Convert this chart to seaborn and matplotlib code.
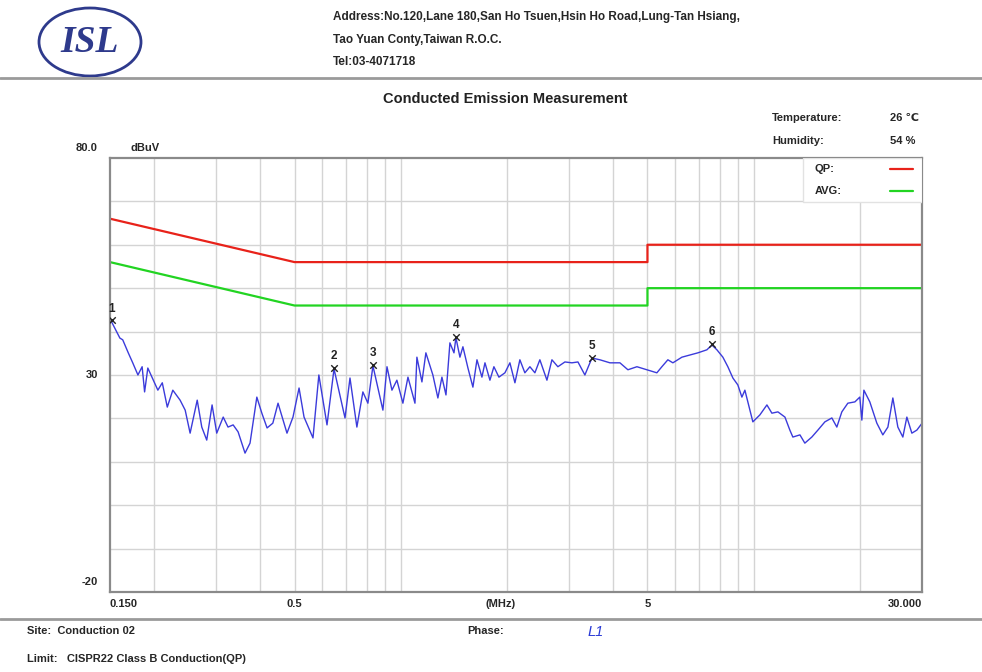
import numpy as np
import pandas as pd
import matplotlib
matplotlib.use("Agg")
import matplotlib.pyplot as plt
import seaborn as sns
from matplotlib.patches import Ellipse, Rectangle
from matplotlib.lines import Line2D
import matplotlib.transforms as mtransforms

freq_mhz = [0.151, 0.160, 0.163, 0.169, 0.174, 0.180, 0.185, 0.188, 0.192, 0.199,
            0.205, 0.211, 0.218, 0.226, 0.237, 0.245, 0.253, 0.265, 0.273, 0.282,
            0.292, 0.301, 0.314, 0.324, 0.335, 0.346, 0.362, 0.374, 0.391, 0.404,
            0.418, 0.434, 0.449, 0.476, 0.495, 0.515, 0.532, 0.564, 0.586, 0.618,
            0.647, 0.695, 0.718, 0.751, 0.781, 0.807, 0.834, 0.890, 0.914, 0.944,
            0.975, 1.014, 1.048, 1.097, 1.111, 1.148, 1.178, 1.233, 1.274, 1.308,
            1.343, 1.378, 1.415, 1.433, 1.471, 1.500, 1.550, 1.601, 1.644, 1.698,
            1.732, 1.789, 1.836, 1.897, 1.973, 2.038, 2.106, 2.175, 2.247, 2.322,
            2.399, 2.478, 2.595, 2.681, 2.787, 2.918, 3.054, 3.177, 3.324, 3.480,
            3.666, 3.914, 4.178, 4.401, 4.668, 4.982, 5.316, 5.493, 5.712, 5.902,
            6.260, 6.594, 6.948, 7.368, 7.613, 7.865, 8.178, 8.448, 8.730, 9.018,
            9.258, 9.441, 9.753, 9.945, 10.41, 10.90, 11.26, 11.71, 12.26, 12.66,
            12.91, 13.52, 13.96, 14.61, 15.20, 15.91, 16.65, 17.20, 17.77, 18.48,
            19.35, 19.98, 20.25, 20.52, 21.33, 22.33, 23.22, 24.00, 24.79, 25.61,
            26.46, 27.16, 28.06, 28.99, 30.0]
level_dbuv = [42.5, 38.5, 38.1, 35.1, 32.8, 30.0, 31.9, 26.1, 31.6, 28.8,
              26.5, 28.2, 22.6, 26.5, 24.2, 21.9, 16.6, 24.2, 18.0, 15.0,
              23.1, 16.6, 20.3, 18.0, 18.5, 16.9, 12.0, 14.3, 24.9, 21.2,
              17.8, 18.9, 23.5, 16.6, 20.3, 27.0, 20.3, 15.5, 30.0, 18.5,
              31.4, 20.1, 29.3, 18.0, 26.1, 23.5, 32.1, 21.9, 31.9, 26.5,
              28.8, 23.5, 29.5, 23.5, 34.1, 28.4, 35.1, 30.0, 24.7, 29.5,
              25.4, 37.4, 35.1, 38.6, 34.1, 36.5, 31.6, 27.2, 33.5, 29.5,
              32.8, 28.8, 31.9, 29.5, 30.5, 32.8, 28.2, 33.5, 30.5, 31.9,
              30.5, 33.5, 28.8, 33.5, 31.9, 33.0, 32.8, 33.0, 30.0, 33.9,
              33.5, 32.8, 32.8, 31.2, 31.9, 31.2, 30.5, 31.9, 33.5, 32.8,
              34.1, 34.6, 35.1, 35.8, 36.9, 35.8, 34.1, 31.9, 29.3, 27.7,
              24.9, 26.5, 21.9, 19.2, 20.8, 23.1, 21.2, 21.5, 20.3, 17.3,
              15.7, 16.2, 14.3, 15.7, 17.3, 19.2, 20.1, 18.0, 21.5, 23.5,
              23.8, 24.9, 19.6, 26.5, 23.8, 18.9, 16.2, 18.0, 24.7, 18.0,
              15.7, 20.3, 16.6, 17.3, 18.9]

# CISPR 22 class B limits
limit_freq = [0.15, 0.5, 5.0, 5.0, 30.0]
qp_limit = [66, 56, 56, 60, 60]
avg_limit = [56, 46, 46, 50, 50]

# Marked peaks
peak_no = ["1", "2", "3", "4", "5", "6"]
peak_freq = [0.152, 0.647, 0.834, 1.433, 3.480, 7.613]
peak_level = [42.6, 31.6, 32.3, 38.8, 33.9, 37.2]

trace = pd.DataFrame({"freq": freq_mhz, "level": level_dbuv})
limits = pd.DataFrame({"freq": limit_freq, "qp": qp_limit, "avg": avg_limit})

sns.set_style("white")
plt.rcParams["font.family"] = ["Liberation Sans", "DejaVu Sans"]

fig = plt.figure(figsize=(9.82, 6.72), dpi=100)
ax = fig.add_axes([0.112, 0.119, 0.827, 0.646])

sns.lineplot(data=limits, x="freq", y="qp", ax=ax, color="#e8221a", lw=1.6,
             estimator=None, sort=False)
sns.lineplot(data=limits, x="freq", y="avg", ax=ax, color="#22d422", lw=1.6,
             estimator=None, sort=False)
sns.lineplot(data=trace, x="freq", y="level", ax=ax, color="#3b3bdb", lw=1.0,
             estimator=None, sort=False)

ax.scatter(peak_freq, peak_level, marker="x", s=22, color="#222222", lw=1.0, zorder=5)
for n, f, v in zip(peak_no, peak_freq, peak_level):
    ax.annotate(n, (f, v), xytext=(0, 4), textcoords="offset points",
                ha="center", va="bottom", fontsize=8.5, fontweight="bold", color="#222222")

ax.set_xscale("log")
ax.set_xlim(0.15, 30)
ax.set_ylim(-20, 80)

# grid
vgrid = [0.2, 0.3, 0.4, 0.5, 0.6, 0.7, 0.8, 0.9, 1, 2, 3, 4, 5, 6, 7, 8, 9, 10, 20]
for g in vgrid:
    ax.axvline(g, color="#d4d4d4", lw=1.0, zorder=0)
for g in range(-10, 80, 10):
    ax.axhline(g, color="#d4d4d4", lw=1.0, zorder=0)

ax.set_xticks([])
ax.set_yticks([])
ax.minorticks_off()
ax.set_xlabel("")
ax.set_ylabel("")
for s in ax.spines.values():
    s.set_color("#8a8a8a")
    s.set_linewidth(1.6)

# axis labels as in the instrument printout
ytr = mtransforms.blended_transform_factory(ax.transAxes, ax.transData)
ax.text(-0.015, 81.2, "80.0", transform=ytr, ha="right", va="bottom", fontsize=8, fontweight="bold")
ax.text(0.025, 81.2, "dBuV", transform=ytr, ha="left", va="bottom", fontsize=8, fontweight="bold")
ax.text(-0.015, 30, "30", transform=ytr, ha="right", va="center", fontsize=8, fontweight="bold")
ax.text(-0.015, -18.8, "-20", transform=ytr, ha="right", va="bottom", fontsize=8, fontweight="bold")

xtr = mtransforms.blended_transform_factory(ax.transData, ax.transAxes)
for lab, f, ha in [("0.150", 0.15, "left"), ("0.5", 0.5, "center"),
                   ("5", 5, "center"), ("30.000", 30, "right")]:
    ax.text(f, -0.015, lab, transform=xtr, ha=ha, va="top", fontsize=8, fontweight="bold")
ax.text(0.481, -0.015, "(MHz)", transform=ax.transAxes, ha="center", va="top",
        fontsize=8, fontweight="bold")

# legend box
ax.add_patch(Rectangle((0.853, 0.899), 0.147, 0.101, transform=ax.transAxes,
                       facecolor="white", edgecolor="#e2e2e2", lw=1.0, zorder=6))
ax.text(0.868, 0.975, "QP:", transform=ax.transAxes, ha="left", va="center",
        fontsize=8, fontweight="bold", zorder=7)
ax.text(0.868, 0.924, "AVG:", transform=ax.transAxes, ha="left", va="center",
        fontsize=8, fontweight="bold", zorder=7)
ax.add_line(Line2D([0.961, 0.989], [0.975, 0.975], transform=ax.transAxes,
                   color="#e8221a", lw=1.6, zorder=7))
ax.add_line(Line2D([0.961, 0.989], [0.924, 0.924], transform=ax.transAxes,
                   color="#22d422", lw=1.6, zorder=7))

# header
fig.add_artist(Ellipse((90 / 982, 1 - 42 / 672), 102 / 982, 68 / 672,
                       transform=fig.transFigure, facecolor="white",
                       edgecolor="#2e3a8c", lw=2.0))
fig.text(90 / 982, 1 - 43 / 672, "ISL", ha="center", va="center", fontsize=27,
         fontweight="bold", fontstyle="italic", family="Liberation Serif", color="#2e3a8c")
addr = ["Address:No.120,Lane 180,San Ho Tsuen,Hsin Ho Road,Lung-Tan Hsiang,",
        "Tao Yuan Conty,Taiwan R.O.C.",
        "Tel:03-4071718"]
for i, line in enumerate(addr):
    fig.text(333 / 982, 1 - (17 + 22.5 * i) / 672, line, ha="left", va="center",
             fontsize=8.5, fontweight="bold")
fig.add_artist(Line2D([0, 1], [1 - 78 / 672, 1 - 78 / 672], transform=fig.transFigure,
                      color="#9a9a9a", lw=2.0))
fig.text(505 / 982, 1 - 99 / 672, "Conducted Emission Measurement", ha="center",
         va="center", fontsize=10.5, fontweight="bold", color="#222222")
fig.text(772 / 982, 1 - 118 / 672, "Temperature:", ha="left", va="center", fontsize=8, fontweight="bold")
fig.text(890 / 982, 1 - 118 / 672, "26 \u2103", ha="left", va="center", fontsize=8, fontweight="bold")
fig.text(772 / 982, 1 - 141 / 672, "Humidity:", ha="left", va="center", fontsize=8, fontweight="bold")
fig.text(890 / 982, 1 - 141 / 672, "54 %", ha="left", va="center", fontsize=8, fontweight="bold")

# footer
fig.add_artist(Line2D([0, 1], [1 - 619 / 672, 1 - 619 / 672], transform=fig.transFigure,
                      color="#9a9a9a", lw=2.0))
fig.text(27 / 982, 1 - 631 / 672, "Site:  Conduction 02", ha="left", va="center",
         fontsize=8, fontweight="bold")
fig.text(467 / 982, 1 - 631 / 672, "Phase:", ha="left", va="center", fontsize=8, fontweight="bold")
fig.text(588 / 982, 1 - 632 / 672, "L1", ha="left", va="center", fontsize=10.5,
         fontstyle="italic", color="#2a3ad6")
fig.text(27 / 982, 1 - 659 / 672, "Limit:   CISPR22 Class B Conduction(QP)", ha="left",
         va="center", fontsize=8, fontweight="bold")

fig.savefig("out.png", dpi=100)
